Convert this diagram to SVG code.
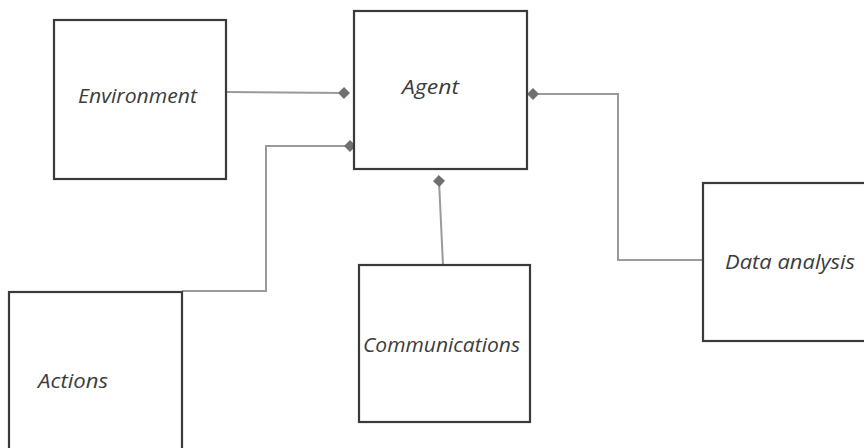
<svg xmlns="http://www.w3.org/2000/svg" width="864" height="448" viewBox="0 0 864 448">
<style>
.box{fill:#fff;stroke:#3a3a3a;stroke-width:2.2}
.lbl{font-family:"Open Sans","Liberation Sans",sans-serif;font-style:italic;font-size:20px;fill:#3c3c3c}
.con{fill:none;stroke:#9a9a9a;stroke-width:2}
</style>
<defs>
<marker id="dia" viewBox="0 0 12 12" refX="6" refY="6" markerWidth="12" markerHeight="12" markerUnits="userSpaceOnUse" orient="auto">
<path d="M0,6 L6,0 L12,6 L6,12 Z" fill="#707070"/>
</marker>
</defs>
<rect width="864" height="448" fill="#fff"/>
<g id="connectors">
<path class="con" d="M226,92 L344,93" marker-end="url(#dia)"/>
<path class="con" d="M182,291 L266,291 L266,146 L350,146" marker-end="url(#dia)"/>
<path class="con" d="M443,265 L439,181" marker-end="url(#dia)"/>
<path class="con" d="M703,260 L618,260 L618,94 L533,94" marker-end="url(#dia)"/>
</g>
<g id="environment"><rect class="box" x="54" y="20" width="172" height="159"/><text class="lbl" x="78" y="103" textLength="119" lengthAdjust="spacingAndGlyphs">Environment</text></g>
<g id="agent"><rect class="box" x="354" y="11" width="173" height="158"/><text class="lbl" x="402" y="94" textLength="57" lengthAdjust="spacingAndGlyphs">Agent</text></g>
<g id="actions"><rect class="box" x="9" y="292" width="173" height="160"/><text class="lbl" x="38" y="388" textLength="70" lengthAdjust="spacingAndGlyphs">Actions</text></g>
<g id="communications"><rect class="box" x="359" y="265" width="171" height="157"/><text class="lbl" x="363" y="352" textLength="157" lengthAdjust="spacingAndGlyphs">Communications</text></g>
<g id="data-analysis"><rect class="box" x="703" y="183" width="165" height="158"/><text class="lbl" x="725" y="269" textLength="130" lengthAdjust="spacingAndGlyphs">Data analysis</text></g>
</svg>
